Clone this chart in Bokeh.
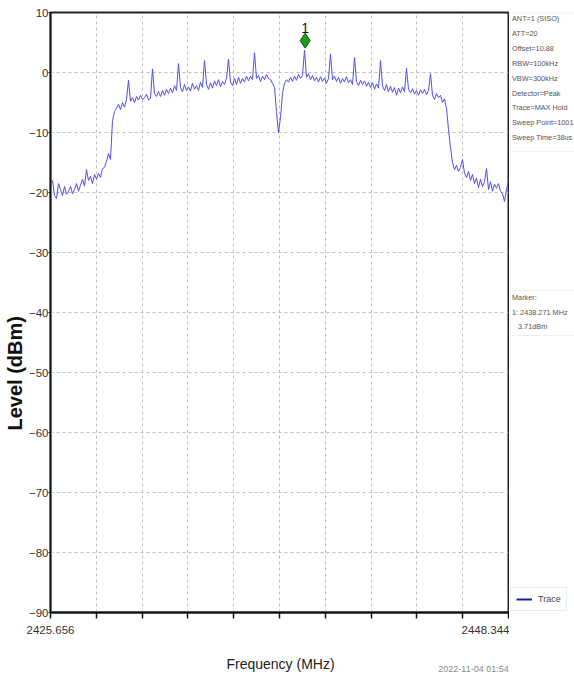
import numpy as np
from bokeh.plotting import figure
from bokeh.layouts import column, row
from bokeh.models import (Range1d, FixedTicker, CustomJSTickFormatter, Label, Title,
                          Legend, LegendItem, ColumnDataSource, BoxAnnotation)
from bokeh.embed import file_html
from bokeh.resources import INLINE

# ---- data ----
f_start = 2425.656
f_stop = 2448.344
levels = [
    -18.5, -18.0, -20.5, -21.0, -18.5, -19.5, -20.5, -19.0, -20.3, -19.8,
    -19.0, -20.2, -19.5, -18.5, -19.8, -18.8, -17.8, -18.9, -16.2, -18.0,
    -17.3, -18.5, -17.0, -17.8, -16.8, -17.5, -16.0, -15.8, -14.8, -13.5,
    -14.5, -8.0, -6.5, -6.0, -5.3, -6.2, -5.0, -5.8, -4.5, -1.3,
    -4.8, -4.2, -5.0, -4.0, -4.6, -3.8, -4.5, -4.2, -3.6, -4.6,
    -4.3, 0.6, -3.5, -4.0, -3.2, -4.0, -3.0, -3.8, -2.8, -3.5,
    -2.6, -3.4, -2.2, -3.0, 1.5, -2.5, -3.2, -2.0, -3.0, -2.4,
    -3.1, -1.8, -2.8, -2.2, -3.0, -1.6, -2.5, 2.0, -2.0, -2.8,
    -1.7, -2.6, -1.4, -2.2, -1.2, -2.4, -1.5, -2.0, -1.0, 2.2,
    -1.6, -2.2, -1.0, -2.0, -0.8, -1.8, -1.0, -1.6, -0.6, -1.4,
    -0.6, -1.2, 3.3, -1.0, -0.5, -1.5, -0.6, -1.2, -0.3, -1.0,
    -1.2, -1.8, -2.5, -6.5, -10.0, -7.5, -3.5, -1.8, -1.2, -1.6,
    -0.8, -1.5, -0.6, -1.3, -0.3, -1.0, -0.5, 3.7, -0.8, -0.2,
    -1.2, -0.5, -1.4, -0.8, -1.6, -0.7, -1.5, -0.9, -1.8, -1.0,
    3.1, -1.2, -0.6, -1.5, -0.8, -1.8, -1.0, -1.6, -0.7, -1.7,
    -1.2, -2.0, 2.5, -1.5, -2.2, -1.3, -2.0, -1.4, -2.3, -1.6,
    -2.5, -1.7, -2.8, -1.9, -2.6, 2.0, -2.2, -3.0, -2.0, -3.2,
    -2.3, -3.3, -2.5, -3.8, -2.6, -3.4, -2.4, -3.2, 0.7, -2.8,
    -3.4, -2.7, -3.6, -3.0, -3.8, -2.9, -3.5, -2.8, -3.7, -3.0,
    -0.2, -3.8, -4.5, -3.5, -4.2, -3.8, -5.0, -4.4, -6.0, -9.5,
    -12.5, -15.0, -16.2, -15.5, -16.5, -15.8, -14.5, -16.8, -17.5, -16.5,
    -18.0, -17.0, -18.5, -17.6, -19.2, -17.8, -19.0, -18.2, -16.0, -19.5,
    -18.2, -19.8, -18.6, -19.3, -18.5, -19.8, -20.2, -21.5, -19.5, -18.0,
]
# sweep points are evenly spaced over the span
freqs = list(np.linspace(f_start, f_stop, len(levels)))

y_ticks = [10, 0, -10, -20, -30, -40, -50, -60, -70, -80, -90]
x_ticks = list(np.linspace(f_start, f_stop, 11))

marker_freq = 2438.271
marker_level = 3.71
marker_draw_offset = 1.6  # diamond drawn just above the peak

info_lines = ["ANT=1 (SISO)", "ATT=20", "Offset=10.88", "RBW=100kHz", "VBW=300kHz",
              "Detector=Peak", "Trace=MAX Hold", "Sweep Point=1001", "Sweep Time=38us"]
marker_lines = ["Marker:", "1: 2438.271 MHz", "3.71dBm"]
timestamp = "2022-11-04 01:54"
x_title = "Frequency (MHz)"
y_title = "Level (dBm)"

FONT = "Liberation Sans"


def blank(width, height, xr, yr, **kw):
    f = figure(width=width, height=height, output_backend="svg", toolbar_location=None,
               x_range=xr, y_range=yr, x_axis_location=None, y_axis_location=None, **kw)
    f.grid.visible = False
    f.outline_line_color = None
    f.background_fill_color = "white"
    f.border_fill_color = "white"
    return f


# ---- main chart ----
p = figure(width=509, height=645, output_backend="svg", toolbar_location=None,
           x_range=Range1d(f_start, f_stop), y_range=Range1d(-90, 10),
           min_border_left=50, min_border_right=1, min_border_top=12,
           min_border_bottom=33)
p.background_fill_color = "white"
p.border_fill_color = "white"
p.outline_line_color = "#222222"
p.outline_line_width = 2

src = ColumnDataSource(dict(f=freqs, lvl=levels))
trace = p.line("f", "lvl", source=src, line_color="#4f4ff0", line_width=1)

p.xaxis.ticker = FixedTicker(ticks=x_ticks)
p.xaxis.formatter = CustomJSTickFormatter(
    code="return (index == 0 || index == ticks.length - 1) ? tick.toFixed(3) : '';")
p.yaxis.ticker = FixedTicker(ticks=y_ticks)
for ax in (p.xaxis, p.yaxis):
    ax.axis_line_color = "#111111"
    ax.major_tick_line_color = "#111111"
    ax.minor_tick_line_color = None
    ax.major_tick_in = 0
    ax.major_label_text_font = FONT
    ax.major_label_text_font_size = "11.5px"
    ax.major_label_text_color = "#333333"
    ax.axis_label = None
    ax.axis_label_standoff = 0
p.xaxis.axis_line_width = 2
p.xaxis.major_tick_line_width = 1.5
p.xaxis.major_tick_out = 6
p.xaxis.major_label_standoff = 7
p.yaxis.axis_line_width = 1.5
p.yaxis.major_tick_out = 2
p.yaxis.major_label_standoff = 0

# y title as a left-side title, placed low like the reference
p.add_layout(Title(text=y_title, align="left", offset=182, standoff=0,
                   text_font=FONT, text_font_style="bold", text_font_size="20px",
                   text_color="#111111"), "left")

for g in (p.xgrid, p.ygrid):
    g.grid_line_color = "#bdbdbd"
    g.grid_line_dash = "3 3"
    g.grid_line_width = 1

p.scatter([marker_freq], [marker_level + marker_draw_offset], marker="diamond", size=15,
          fill_color="#1f9a1f", line_color="#0e5a0e", line_width=1)
p.add_layout(Label(x=marker_freq, y=marker_level + marker_draw_offset, y_offset=8,
                   text="1", text_font=FONT, text_font_size="14px",
                   text_color="#111111", text_align="center", text_baseline="bottom"))

# ---- right strip: info boxes and legend (layout coordinates = page pixels) ----
pr = blank(65, 645, Range1d(509, 574), Range1d(612, 12), min_border_left=0,
           min_border_right=0, min_border_top=12, min_border_bottom=33)
pr.add_layout(BoxAnnotation(left=509.5, right=578, top=12.5, bottom=151,
                            fill_color="white", fill_alpha=1.0,
                            line_color="#cccccc", line_width=1))
for i, t in enumerate(info_lines):
    pr.add_layout(Label(x=511.5, y=18 + i * 14.9, text=t, text_font=FONT,
                        text_font_size="7.3px", text_color="#555555",
                        text_align="left", text_baseline="middle"))
pr.add_layout(BoxAnnotation(left=509.5, right=578, top=290, bottom=335,
                            fill_color="white", fill_alpha=1.0,
                            line_color="#cccccc", line_width=1))
marker_indent = [0, 0, 6]
for i, t in enumerate(marker_lines):
    pr.add_layout(Label(x=511.5 + marker_indent[i], y=297 + i * 14.5, text=t,
                        text_font=FONT, text_font_size="7.3px", text_color="#555555",
                        text_align="left", text_baseline="middle"))

proxy = pr.line(x=[np.nan], y=[np.nan], line_color="#1c1ca8", line_width=2)
legend = Legend(items=[LegendItem(label="Trace", renderers=[proxy])], location=(1, 1),
                label_text_font=FONT, label_text_font_size="9px",
                label_text_color="#444444", border_line_color="#d8d8d8",
                padding=5, margin=0, spacing=0, glyph_width=16, glyph_height=12,
                label_standoff=6, label_height=12, background_fill_alpha=1.0)
pr.add_layout(legend)

# ---- bottom strip: x title and timestamp (layout coordinates = page pixels) ----
pb = blank(574, 34, Range1d(0, 574), Range1d(679, 645), min_border=0)
pb.add_layout(Label(x=280, y=663, text=x_title, text_font=FONT, text_font_size="14px",
                    text_color="#222222", text_align="center", text_baseline="middle"))
pb.add_layout(Label(x=473, y=668, text=timestamp, text_font=FONT, text_font_size="9px",
                    text_color="#8a8a8a", text_align="center", text_baseline="middle"))

layout = column(row(p, pr, spacing=0), pb, spacing=0)
open("out.html", "w").write(file_html(layout, INLINE))
